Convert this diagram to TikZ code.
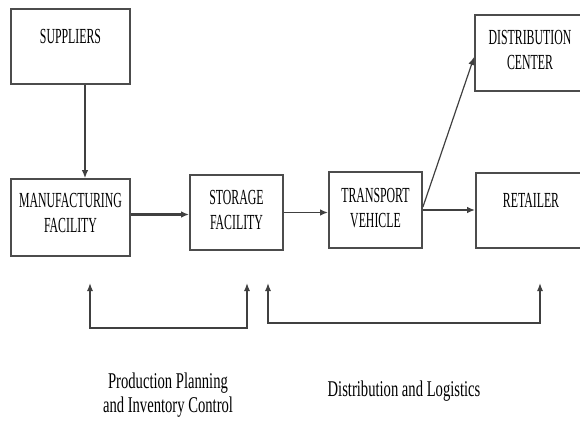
\documentclass[tikz,border=0pt]{standalone}
\usepackage{fontspec}
\setmainfont{Liberation Serif}
\newfontfamily\boxfont[FakeStretch=0.55]{Liberation Serif}
\newfontfamily\notefont[FakeStretch=0.65]{Liberation Serif}
\usetikzlibrary{arrows.meta}

\begin{document}
\begin{tikzpicture}[
    x=1pt,y=-1pt,
    box/.style={draw=black!70,line width=1.8pt,minimum width=119pt,
        minimum height=75pt,align=center,inner sep=0pt,
        font={\fontsize{21.5}{25}\selectfont\boxfont}},
    lift/.style={text depth=#1},
    flow/.style={draw=black!75,line width=1.2pt,
        -{Latex[length=8pt,width=6.5pt]}},
    feedback/.style={draw=black!75,line width=1.3pt,
        {Latex[length=8pt,width=6pt]}-{Latex[length=8pt,width=6pt]}},
    note/.style={align=center,inner sep=0pt,
        font={\fontsize{22.5}{23.5}\selectfont\notefont}},
    ]
    \useasboundingbox (0,0) rectangle (580,425);
    % Boxes
    \node[box,lift=20pt] (sup) at (70.5,46.5) {SUPPLIERS};
    \node[box,lift=10pt,minimum height=77pt] (man) at (70.5,217.5)
         {MANUFACTURING\\FACILITY};
    \node[box,lift=6pt,minimum width=93pt] (sto) at (236.5,212.5)
         {STORAGE\\FACILITY};
    \node[box,lift=5pt,minimum width=93pt,minimum height=76pt] (tra)
         at (375.5,210) {TRANSPORT\\VEHICLE};
    \node[box,lift=21pt,minimum width=110pt] (ret) at (531,210.5) {RETAILER};
    \node[box,lift=6pt,minimum width=110pt,minimum height=76pt] (dis)
         at (530,53) {DISTRIBUTION\\CENTER};
    % Flow of goods
    \draw[flow] ([xshift=14.5pt]sup.south) -- ([xshift=14.5pt]man.north);
    \draw[flow,line width=2.2pt]
         ([yshift=3pt]man.east) -- ([yshift=3pt]man.east -| sto.west);
    \draw[flow,line width=1.8pt] (sto.east) -- (sto.east -| tra.west);
    \draw[flow,line width=2.6pt] (tra.east) -- (tra.east -| ret.west);
    \draw[flow] ([yshift=3pt]tra.east) -- ([yshift=-4pt]dis.west);
    % Feedback brackets
    \coordinate (ppA) at (90,283);
    \coordinate (ppB) at (247,283);
    \coordinate (dlA) at (268,283);
    \coordinate (dlB) at (540,283);
    \draw[feedback] (ppA) -- ++(0,45) -| (ppB);
    \draw[feedback] (dlA) -- ++(0,40) -| (dlB);
    % Notes
    \node[note] (pp) at (168,395) {Production Planning\\and Inventory Control};
    \node[note] (dl) at (404,391) {Distribution and Logistics};
\end{tikzpicture}
\end{document}
